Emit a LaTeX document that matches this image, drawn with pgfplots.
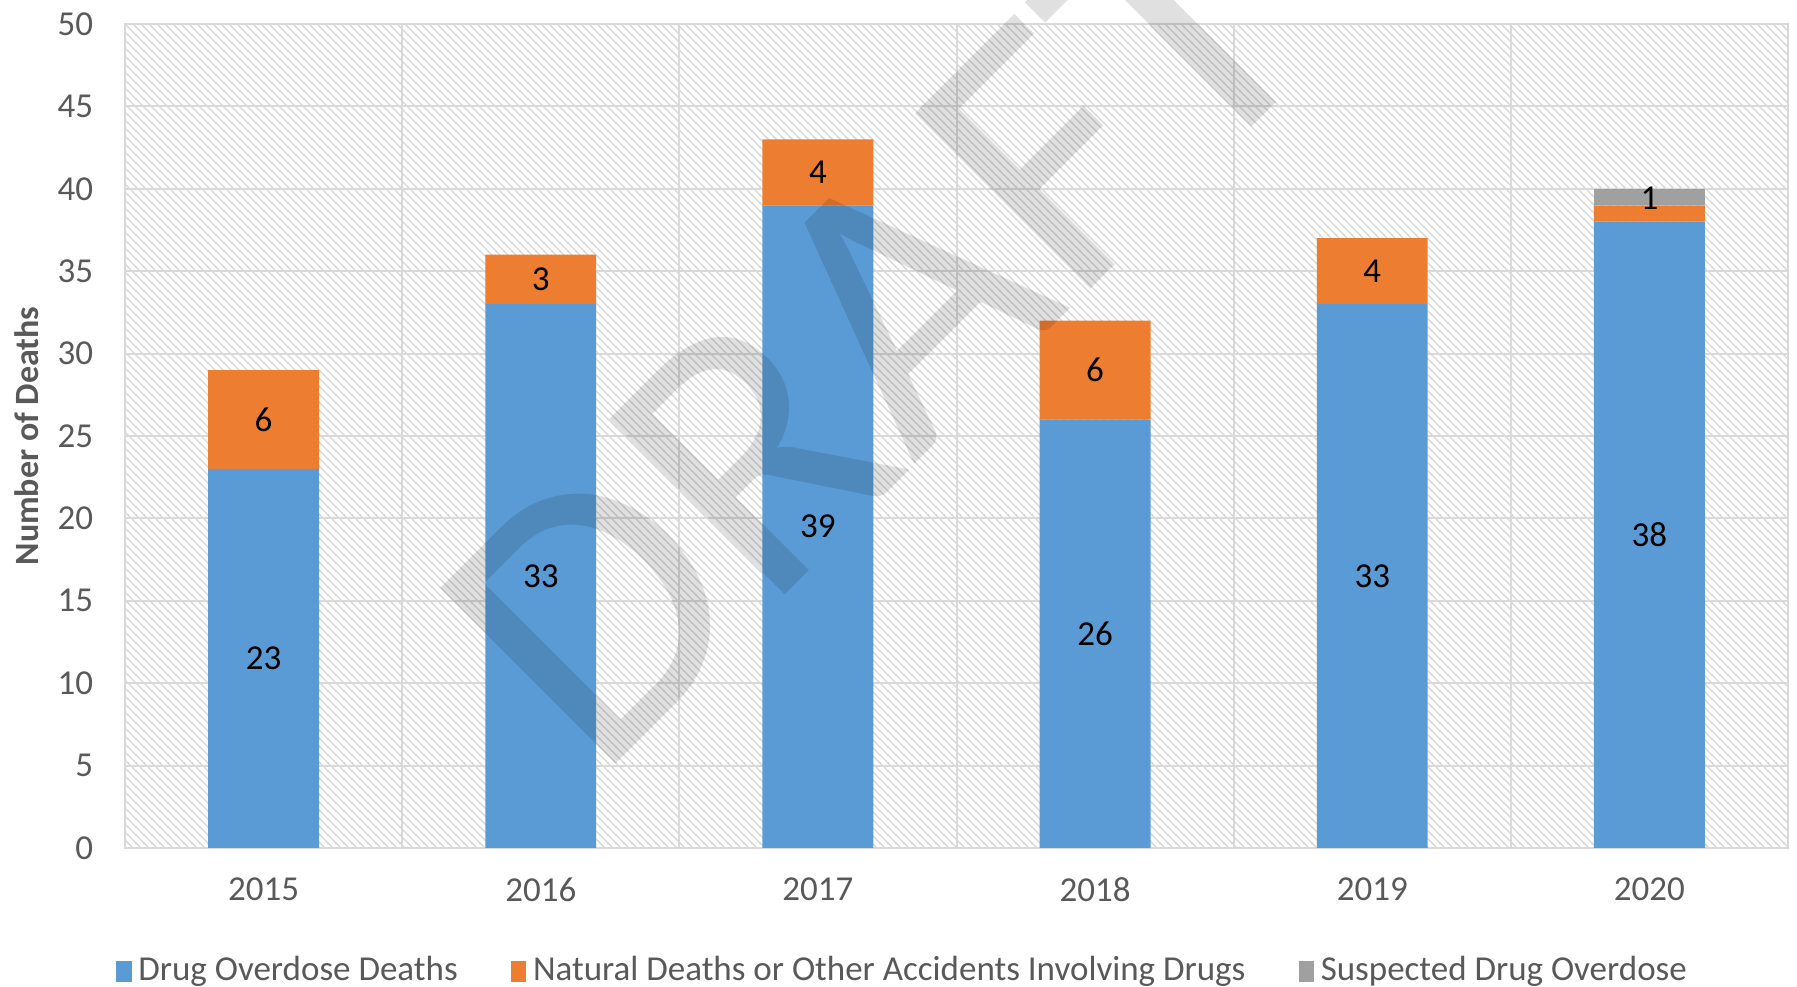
\documentclass[border=0pt]{standalone}
\usepackage{pgfplots}
\pgfplotsset{compat=1.18}
\usepackage{fontspec}
\setmainfont{Carlito}
\usetikzlibrary{patterns}
\pgfdeclarepatternformonly{finehatch}{\pgfqpoint{-1pt}{-1pt}}{\pgfqpoint{3.4pt}{3.4pt}}{\pgfqpoint{2.4pt}{2.4pt}}{%
  \pgfsetlinewidth{0.38pt}%
  \pgfpathmoveto{\pgfqpoint{-0.1pt}{2.5pt}}%
  \pgfpathlineto{\pgfqpoint{2.5pt}{-0.1pt}}%
  \pgfusepath{stroke}}
\definecolor{cblue}{HTML}{5B9BD5}
\definecolor{corange}{HTML}{ED7D31}
\definecolor{cgray}{HTML}{A0A0A0}
\definecolor{txt}{HTML}{595959}
\definecolor{gridc}{HTML}{D9D9D9}
\definecolor{hatchc}{HTML}{D6D6D6}
\tikzset{lbl/.style={font=\fontsize{10.5}{12.6}\selectfont, text=black}}
\begin{document}
\begin{tikzpicture}
\useasboundingbox (-37.5pt,-41.7pt) rectangle (501.6pt,254.4pt);
\begin{axis}[
  at={(0pt,0pt)}, anchor=south west,
  scale only axis, width=498.9pt, height=247.2pt,
  ybar stacked, bar width=0.4,
  xmin=-0.5, xmax=5.5, ymin=0, ymax=50,
  xtick={0,1,2,3,4,5},
  xticklabels={2015,2016,2017,2018,2019,2020},
  minor xtick={-0.5,0.5,1.5,2.5,3.5,4.5,5.5},
  ytick={0,5,...,50},
  /pgf/number format/assume math mode=true,
  xminorgrids=true, ymajorgrids=true, xmajorgrids=false,
  major tick length=0pt, minor tick length=0pt,
  grid style={draw=gridc, line width=0.6pt},
  minor grid style={draw=gridc, line width=0.6pt},
  axis line style={draw=gridc, line width=0.6pt},
  axis background/.style={pattern=finehatch, pattern color=hatchc},
  tick label style={font=\fontsize{10.5}{12.6}\selectfont, text=txt},
  yticklabel style={xshift=-6pt},
  xticklabel style={yshift=-5.5pt},
  ylabel={Number of Deaths},
  ylabel style={font=\bfseries\fontsize{10.2}{12.2}\selectfont, text=txt, at={(axis description cs:-0.0589,0.5)}, anchor=center},
  legend style={at={(axis description cs:0.469,-0.1497)}, anchor=center, draw=none, fill=none,
    font=\fontsize{10.5}{12.6}\selectfont, text=txt,
    /tikz/every even column/.append style={column sep=14pt}},
  legend columns=-1,
]
\addplot[fill=cblue, draw=none, legend image code/.code={\fill[cblue] (-1.6pt,-3.2pt) rectangle (3.0pt,3.2pt);}] coordinates {(0,23) (1,33) (2,39) (3,26) (4,33) (5,38)};
\addplot[fill=corange, draw=none, legend image code/.code={\fill[corange] (-1.6pt,-3.2pt) rectangle (3.0pt,3.2pt);}] coordinates {(0,6) (1,3) (2,4) (3,6) (4,4) (5,1)};
\addplot[fill=cgray, draw=none, legend image code/.code={\fill[cgray] (-1.6pt,-3.2pt) rectangle (3.0pt,3.2pt);}] coordinates {(0,0) (1,0) (2,0) (3,0) (4,0) (5,1)};
\legend{Drug Overdose Deaths, Natural Deaths or Other Accidents Involving Drugs, Suspected Drug Overdose}
\coordinate (b0) at (axis cs:0,11.5);
\coordinate (b1) at (axis cs:1,16.5);
\coordinate (b2) at (axis cs:2,19.5);
\coordinate (b3) at (axis cs:3,13);
\coordinate (b4) at (axis cs:4,16.5);
\coordinate (b5) at (axis cs:5,19);
\coordinate (o0) at (axis cs:0,26);
\coordinate (o1) at (axis cs:1,34.5);
\coordinate (o2) at (axis cs:2,41);
\coordinate (o3) at (axis cs:3,29);
\coordinate (o4) at (axis cs:4,35);
\coordinate (g5) at (axis cs:5,39.45);
\end{axis}
\node[lbl] at (b0) {23};
\node[lbl] at (b1) {33};
\node[lbl] at (b2) {39};
\node[lbl] at (b3) {26};
\node[lbl] at (b4) {33};
\node[lbl] at (b5) {38};
\node[lbl] at (o0) {6};
\node[lbl] at (o1) {3};
\node[lbl] at (o2) {4};
\node[lbl] at (o3) {6};
\node[lbl] at (o4) {4};
\node[lbl] at (g5) {1};
\node[rotate=45, anchor=base west, inner sep=0pt, font=\fontsize{116}{116}\selectfont, text=black, opacity=0.12] at (141.5pt,19.6pt) {DRAFT};
\end{tikzpicture}
\end{document}
